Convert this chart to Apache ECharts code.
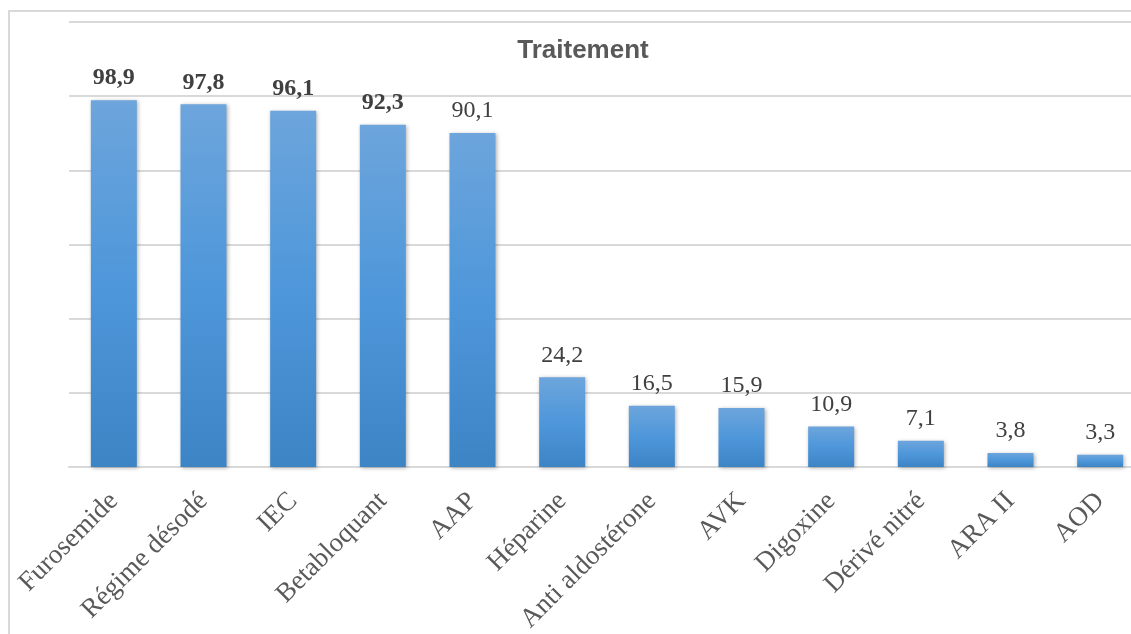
<!DOCTYPE html>
<html>
<head>
<meta charset="utf-8">
<title>Traitement</title>
<script src="https://cdn.jsdelivr.net/npm/echarts@6/dist/echarts.min.js"></script>
<style>
  html, body { margin: 0; padding: 0; background: #fff; }
  #chart { width: 1131px; height: 634px; }
</style>
</head>
<body>
<div id="chart"></div>
<script>
// data
const categories = ['Furosemide', 'Régime désodé', 'IEC', 'Betabloquant', 'AAP', 'Héparine',
  'Anti aldostérone', 'AVK', 'Digoxine', 'Dérivé nitré', 'ARA II', 'AOD']
const values = [98.9, 97.8, 96.1, 92.3, 90.1, 24.2, 16.5, 15.9, 10.9, 7.1, 3.8, 3.3]
const boldCount = 4 // the first labels are printed in bold

const chart = echarts.init(document.getElementById('chart'))

chart.setOption({
  animation: false,
  title: {
    text: 'Traitement',
    left: 578,
    top: 33,
    textAlign: 'center',
    textStyle: {
      fontFamily: 'Liberation Sans',
      fontSize: 26,
      fontWeight: 'bold',
      color: '#595959'
    }
  },
  graphic: [{
    // outer chart frame
    type: 'rect',
    shape: { x: 9, y: 11, width: 1200, height: 700 },
    style: { fill: 'none', stroke: '#d9d9d9', lineWidth: 2 },
    silent: true
  }],
  grid: {
    left: 69,
    top: 22,
    right: -14,
    bottom: 167,
    containLabel: false,
    outerBoundsMode: 'none'
  },
  xAxis: {
    type: 'category',
    data: categories,
    axisTick: { show: false },
    axisLine: { lineStyle: { color: '#d9d9d9', width: 2 } },
    axisLabel: {
      rotate: 45,
      margin: 30,
      interval: 0,
      fontFamily: 'Liberation Serif',
      fontSize: 27,
      color: '#595959'
    }
  },
  yAxis: {
    type: 'value',
    min: 0,
    max: 120,
    interval: 20,
    axisLabel: { show: false },
    axisLine: { show: false },
    axisTick: { show: false },
    splitLine: { lineStyle: { color: '#d9d9d9', width: 2 } }
  },
  series: [{
    type: 'bar',
    barWidth: 46,
    data: values.map((v, i) => ({
      value: v,
      label: { fontWeight: i < boldCount ? 'bold' : 'normal' }
    })),
    itemStyle: {
      color: new echarts.graphic.LinearGradient(0, 0, 0, 1, [
        { offset: 0, color: '#6da5dc' },
        { offset: 0.5, color: '#4e97da' },
        { offset: 1, color: '#3d84c5' }
      ]),
      shadowColor: 'rgba(0, 0, 0, 0.3)',
      shadowBlur: 4,
      shadowOffsetX: 1,
      shadowOffsetY: 1
    },
    label: {
      show: true,
      position: 'top',
      distance: 10,
      fontFamily: 'Liberation Serif',
      fontSize: 24,
      color: '#404040',
      formatter: p => String(p.value).replace('.', ',')
    }
  }]
})
</script>
</body>
</html>
